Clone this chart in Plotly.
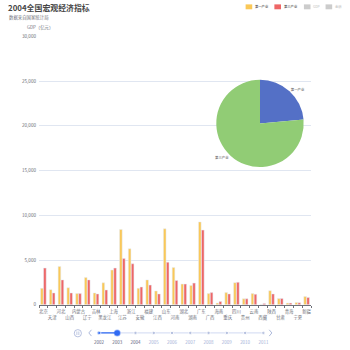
import plotly.graph_objects as go

# ---------------- data ----------------
provinces = ['北京', '天津', '河北', '山西', '内蒙古', '辽宁', '吉林', '黑龙江', '上海', '江苏',
             '浙江', '安徽', '福建', '江西', '山东', '河南', '湖北', '湖南', '广东', '广西',
             '海南', '重庆', '四川', '贵州', '云南', '西藏', '陕西', '甘肃', '青海', '宁夏', '新疆']
industry1 = [1830, 1685, 4285, 1900, 1245, 3040, 1320, 2450, 3880, 8420,
             6260, 1830, 2780, 1540, 8490, 4170, 2310, 2160, 9260, 1245,
             183, 1355, 2470, 660, 1245, 37, 1575, 695, 183, 256, 915]
industry3 = [4100, 1320, 2780, 1320, 1245, 2780, 1210, 1650, 4100, 5160,
             4580, 1980, 2200, 1210, 4760, 2710, 2310, 2420, 8345, 1355,
             366, 1210, 2510, 660, 1170, 146, 1210, 695, 183, 220, 805]
pie_labels = ['第一产业', '第三产业']
pie_values = [20770, 67300]
legend_names = ['第一产业', '第三产业', 'GDP', '金融']
years = [2002, 2003, 2004, 2005, 2006, 2007, 2008, 2009, 2010, 2011]
current_year = 2003
y_ticks = [0, 5000, 10000, 15000, 20000, 25000, 30000]

title_text = '2004全国宏观经济指标'
subtitle_text = '数据来自国家统计局'
yaxis_name = 'GDP（亿元）'

# ---------------- styles ----------------
W = H = 350
FONT = 'Noto Sans CJK SC, Noto Sans, sans-serif'
C_YELLOW = '#fac858'
C_RED = '#ee6666'
C_BLUE = '#5470c6'
C_GREEN = '#91cc75'
C_AXIS = '#6e7079'
C_GRID = '#e0e6f1'
C_TL = '#a4b1d7'
C_TL_ACTIVE = '#316bf3'
SMALL = 4.6


def px_x(p):
    return p / W


def px_y(p):
    return 1 - p / H


fig = go.Figure()

fig.add_trace(go.Bar(x=provinces, y=industry1, name=legend_names[0],
                     marker=dict(color=C_YELLOW), xaxis='x', yaxis='y'))
fig.add_trace(go.Bar(x=provinces, y=industry3, name=legend_names[1],
                     marker=dict(color=C_RED), xaxis='x', yaxis='y'))

fig.add_trace(go.Pie(labels=pie_labels, values=pie_values, sort=False,
                     direction='clockwise', rotation=0,
                     marker=dict(colors=[C_BLUE, C_GREEN], line=dict(width=0)),
                     textinfo='label', textposition='outside',
                     outsidetextfont=dict(size=3.4, color='#555', family=FONT),
                     domain=dict(x=[px_x(217.5), px_x(307.5)], y=[px_y(167.5), px_y(77.5)]),
                     showlegend=False, hoverinfo='label+value'))

# timeline
fig.add_trace(go.Scatter(x=years, y=[0] * len(years), mode='lines',
                         line=dict(color='#dae1f5', width=1.2), xaxis='x2', yaxis='y2',
                         cliponaxis=False, showlegend=False, hoverinfo='skip'))
prog = [y for y in years if y <= current_year]
fig.add_trace(go.Scatter(x=prog, y=[0] * len(prog), mode='lines',
                         line=dict(color=C_TL_ACTIVE, width=1.2), xaxis='x2', yaxis='y2',
                         cliponaxis=False, showlegend=False, hoverinfo='skip'))
others = [y for y in years if y != current_year]
fig.add_trace(go.Scatter(x=others, y=[0] * len(others), mode='markers',
                         marker=dict(size=[4 if y < current_year else 3.4 for y in others],
                                     color=[C_TL_ACTIVE if y < current_year else C_TL for y in others]),
                         xaxis='x2', yaxis='y2', cliponaxis=False, showlegend=False))
fig.add_trace(go.Scatter(x=[current_year], y=[0], mode='markers',
                         marker=dict(size=5.5, color=C_TL_ACTIVE,
                                     line=dict(color='rgba(49,107,243,0.45)', width=1.5)),
                         xaxis='x2', yaxis='y2', cliponaxis=False, showlegend=False))

year_text = ['<span style="color:%s">%d</span>' % ('#5f6680' if y <= current_year + 1 else C_TL, y)
             for y in years]

ticktext = [p + '<br> ' if i % 2 == 0 else ' <br>' + p for i, p in enumerate(provinces)]

annotations = [
    dict(text='<b>' + title_text + '</b>', x=px_x(1.5), y=px_y(4.8), xref='paper', yref='paper',
         xanchor='left', yanchor='middle', showarrow=False,
         font=dict(size=7.9, color='#464646', family=FONT)),
    dict(text=subtitle_text, x=px_x(2), y=px_y(15), xref='paper', yref='paper',
         xanchor='left', yanchor='middle', showarrow=False,
         font=dict(size=4.4, color='#6e7079', family=FONT)),
    dict(text=yaxis_name, x=px_x(21), y=px_y(24.7), xref='paper', yref='paper',
         xanchor='left', yanchor='middle', showarrow=False,
         font=dict(size=4.4, color=C_AXIS, family=FONT)),
]

shapes = []
legend_colors = [C_YELLOW, C_RED, '#cccccc', '#cccccc']
legend_rect_x = [247.7, 277.3, 307.7, 330.0]
for name, col, lx in zip(legend_names, legend_colors, legend_rect_x):
    shapes.append(dict(type='rect', xref='paper', yref='paper',
                       x0=px_x(lx), x1=px_x(lx + 6.8), y0=px_y(6.4), y1=px_y(1.4),
                       fillcolor=col, line=dict(width=0)))
    annotations.append(dict(text=name, x=px_x(lx + 7.8), y=px_y(3.9), xref='paper', yref='paper',
                            xanchor='left', yanchor='middle', showarrow=False,
                            font=dict(size=3.3, color='#333' if col != '#cccccc' else '#c0c0c0',
                                      family=FONT)))

# timeline controls
shapes.append(dict(type='circle', xref='paper', yref='paper',
                   x0=px_x(71.3), x1=px_x(78.7), y0=px_y(339.7), y1=px_y(332.3),
                   line=dict(color=C_TL, width=0.8)))
shapes.append(dict(type='path', xref='paper', yref='paper',
                   path='M %f %f L %f %f M %f %f L %f %f' % (px_x(74), px_y(334.2), px_x(74), px_y(337.8),
                                                             px_x(76), px_y(334.2), px_x(76), px_y(337.8)),
                   line=dict(color=C_TL, width=0.7)))
shapes.append(dict(type='path', xref='paper', yref='paper',
                   path='M %f %f L %f %f L %f %f' % (px_x(89), px_y(332.5), px_x(86.3), px_y(335.7),
                                                      px_x(89), px_y(338.9)),
                   line=dict(color=C_TL, width=0.9)))
shapes.append(dict(type='path', xref='paper', yref='paper',
                   path='M %f %f L %f %f L %f %f' % (px_x(272), px_y(332.5), px_x(274.7), px_y(335.7),
                                                      px_x(272), px_y(338.9)),
                   line=dict(color=C_TL, width=0.9)))

fig.update_layout(
    width=W, height=H, autosize=False,
    margin=dict(l=0, r=0, t=0, b=0, pad=0),
    paper_bgcolor='white', plot_bgcolor='white',
    showlegend=False,
    barmode='group', bargap=0.32, bargroupgap=0.12,
    font=dict(family=FONT, size=SMALL, color=C_AXIS),
    xaxis=dict(domain=[px_x(35), px_x(315)], type='category', anchor='y',
               tickmode='array', tickvals=provinces, ticktext=ticktext,
               tickfont=dict(size=4.4, color=C_AXIS), tickangle=0,
               showline=True, linecolor=C_AXIS, linewidth=0.8,
               ticks='outside', ticklen=2, tickcolor=C_AXIS, tickwidth=0.6,
               tickson='boundaries', showgrid=False, zeroline=False,
               ticklabelstandoff=2),
    yaxis=dict(domain=[px_y(307), px_y(34)], range=[0, 30000], anchor='x',
               tickmode='array', tickvals=y_ticks, tickformat=',',
               tickfont=dict(size=SMALL, color=C_AXIS),
               showgrid=True, gridcolor=C_GRID, gridwidth=0.7,
               showline=False, zeroline=False, ticks='', ticklabelstandoff=2),
    xaxis2=dict(domain=[px_x(96.7), px_x(266)], range=[2002, 2011], anchor='y2',
                tickmode='array', tickvals=years, ticktext=year_text,
                tickfont=dict(size=4.5), showgrid=False, zeroline=False,
                showline=False, ticks='', ticklabelstandoff=1),
    yaxis2=dict(domain=[px_y(340), px_y(331.4)], range=[-1, 1], anchor='x2',
                visible=False, fixedrange=True),
    annotations=annotations,
    shapes=shapes,
)

fig.write_html('out.html')
